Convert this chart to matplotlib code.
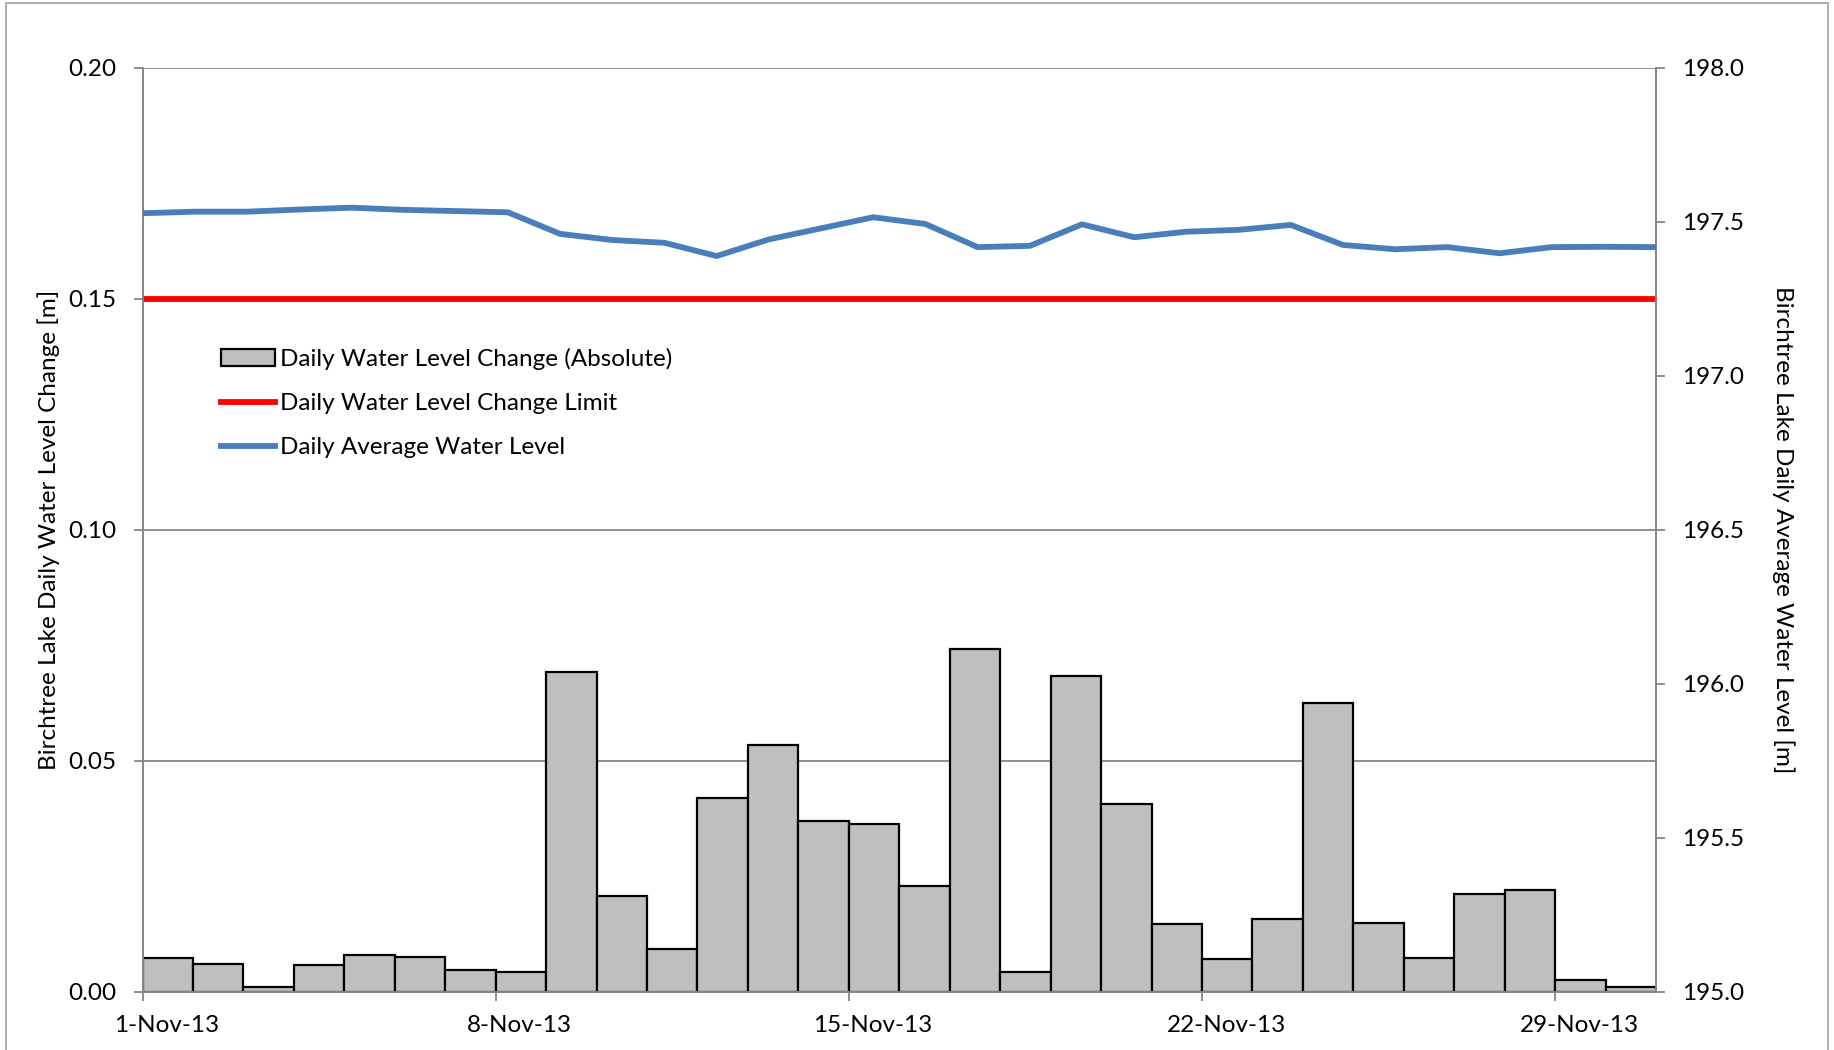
import numpy as np
import matplotlib
matplotlib.use("Agg")
import matplotlib.pyplot as plt
import matplotlib.patches as mpatches
import matplotlib.transforms as mtransforms
from matplotlib.lines import Line2D

plt.rcParams["font.family"] = ["Lato", "DejaVu Sans"]

# ── Data ─────────────────────────────────────────────────────────
days = list(range(1, 31))  # 1-Nov-13 .. 30-Nov-13
daily_change = [0.0073, 0.0060, 0.0011, 0.0058, 0.0081, 0.0076, 0.0047, 0.0043,
                0.0692, 0.0207, 0.0093, 0.0419, 0.0534, 0.0370, 0.0363, 0.0229,
                0.0742, 0.0044, 0.0684, 0.0407, 0.0147, 0.0071, 0.0157, 0.0625,
                0.0149, 0.0073, 0.0213, 0.0221, 0.0025, 0.0011]
change_limit = 0.15
avg_level = [197.528, 197.533, 197.533, 197.540, 197.546, 197.539, 197.535, 197.531,
             197.461, 197.441, 197.432, 197.389, 197.443, 197.479, 197.515, 197.493,
             197.418, 197.422, 197.492, 197.450, 197.468, 197.474, 197.490, 197.425,
             197.411, 197.418, 197.398, 197.418, 197.419, 197.418]
xtick_days = [1, 8, 15, 22, 29]
xtick_labels = ["1-Nov-13", "8-Nov-13", "15-Nov-13", "22-Nov-13", "29-Nov-13"]
left_ticks = [0.00, 0.05, 0.10, 0.15, 0.20]
right_ticks = [195.0, 195.5, 196.0, 196.5, 197.0, 197.5, 198.0]

GREY = "#868686"
BAR = "#BFBFBF"
RED = "#FF0000"
BLUE = "#4A7EBB"
FS = 17.5
LW = 4.2

fig = plt.figure(figsize=(18.34, 10.5), dpi=100)
ax = fig.add_axes([0.0777, 0.0553, 0.8253, 0.8801])

# figure border
fig.patches.append(mpatches.Rectangle((0.0033, -0.01), 0.9935, 1.007,
                                      transform=fig.transFigure, fill=False,
                                      edgecolor="#A0A0A0", lw=1.2))

# bars span each day
x_start = np.array(days) - 1
ax.bar(x_start, daily_change, width=1.0, align="edge", color=BAR,
       edgecolor="black", linewidth=1.6, zorder=2)
ax.plot([0, 30], [change_limit, change_limit], color=RED, lw=LW,
        solid_capstyle="butt", zorder=3)

ax.set_xlim(0, 30)
ax.set_ylim(0, 0.20)
ax.set_yticks(left_ticks)
ax.set_yticklabels([f"{v:.2f}" for v in left_ticks])
ax.set_xticks([d - 1 for d in xtick_days])
ax.set_xticklabels(xtick_labels)
ax.grid(axis="y", color=GREY, lw=1.3, zorder=0)
ax.set_axisbelow(True)
ax.tick_params(axis="both", colors=GREY, labelcolor="black", labelsize=FS,
               length=6.5, width=1.3, direction="out")
ax.tick_params(axis="y", pad=12)
ax.tick_params(axis="x", pad=10)
# Excel puts the date labels a little right of the tick
shift = mtransforms.ScaledTranslation(0.24, 0, fig.dpi_scale_trans)
for lbl in ax.get_xticklabels():
    lbl.set_transform(lbl.get_transform() + shift)
for s in ax.spines.values():
    s.set_color(GREY)
    s.set_linewidth(1.3)
ax.spines["top"].set_visible(False)
ax.set_ylabel("Birchtree Lake Daily Water Level Change [m]", fontsize=FS)
ax.yaxis.set_label_coords(-0.0545, 0.5)

# secondary axis: line stretched across full width
ax2 = ax.twinx()
x_line = np.linspace(0, 30, len(avg_level))
ax2.plot(x_line, avg_level, color=BLUE, lw=LW, solid_joinstyle="round",
         solid_capstyle="round", zorder=4)
ax2.set_ylim(195.0, 198.0)
ax2.set_yticks(right_ticks)
ax2.set_yticklabels([f"{v:.1f}" for v in right_ticks])
ax2.tick_params(axis="y", colors=GREY, labelcolor="black", labelsize=FS,
                length=6.5, width=1.3, direction="out", pad=12)
for s in ax2.spines.values():
    s.set_color(GREY)
    s.set_linewidth(1.3)
ax2.spines["top"].set_visible(False)
ax2.set_ylabel("Birchtree Lake Daily Average Water Level [m]", fontsize=FS,
               rotation=-90, va="bottom")
ax2.yaxis.set_label_coords(1.0769, 0.5)

handles = [
    mpatches.Patch(facecolor=BAR, edgecolor="black", lw=1.6,
                   label="Daily Water Level Change (Absolute)"),
    Line2D([], [], color=RED, lw=LW, label="Daily Water Level Change Limit"),
    Line2D([], [], color=BLUE, lw=LW, label="Daily Average Water Level"),
]
leg = ax2.legend(handles=handles, loc="upper left", bbox_to_anchor=(0.052, 0.697),
                 frameon=False, fontsize=FS, borderpad=0, borderaxespad=0,
                 handlelength=2.2, handletextpad=0.2, labelspacing=0.95)

fig.savefig("out.png", dpi=100)
